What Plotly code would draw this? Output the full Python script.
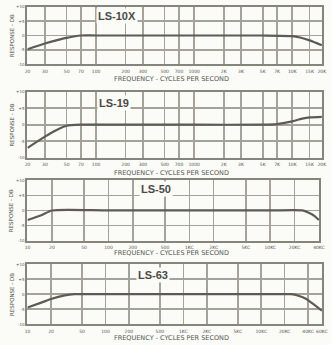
import math
import plotly.graph_objects as go

# ---------------- data ----------------
models = ["LS-10X", "LS-19", "LS-50", "LS-63"]

freq_ls10x = [20, 30, 40, 50, 70, 100, 1000, 5000, 10000, 12000, 15000, 20000]
db_ls10x = [-4.8, -2.8, -1.6, -0.8, 0, 0, 0, 0, -0.2, -0.7, -1.7, -3.4]

freq_ls19 = [20, 30, 40, 50, 70, 100, 1000, 5000, 7000, 10000, 12000, 15000, 20000]
db_ls19 = [-7.0, -3.6, -1.5, -0.3, 0, 0, 0, 0, 0.2, 1.0, 1.7, 2.2, 2.4]

freq_ls50 = [10, 15, 20, 100, 1000, 10000, 25000, 30000, 35000, 40000]
db_ls50 = [-3.2, -1.5, 0, 0, 0, 0, 0, -0.8, -1.8, -3.2]

freq_ls63 = [10, 15, 20, 30, 40, 100, 1000, 10000, 24000, 30000, 38000, 45000, 60000]
db_ls63 = [-4.4, -2.8, -1.6, -0.4, 0, 0, 0, 0, 0, -0.5, -1.6, -3.0, -5.5]

ticks_wide = [20, 30, 50, 70, 100, 200, 300, 500, 700, 1000, 2000, 3000, 5000, 7000, 10000, 15000, 20000]
labels_wide = ["20", "30", "50", "70", "100", "200", "300", "500", "700", "1000",
               "2K", "3K", "5K", "7K", "10K", "15K", "20K"]
ticks_ext = [10, 20, 50, 100, 200, 500, 1000, 2000, 5000, 10000, 20000, 40000, 60000]
labels_ext = ["10", "20", "50", "100", "200", "500", "1KC", "2KC", "5KC", "10KC", "20KC", "40KC", "60KC"]

y_ticks = [-10, -5, 0, 5, 10]
y_labels = ["-10", "-5", "0", "+5", "+10"]

x_title = "FREQUENCY - CYCLES PER SECOND"
y_title = "RESPONSE - DB"

# ---------------- layout helpers ----------------
W, H = 331, 345
panels = [
    # (freq, db, xrange, ticks, labels, left, right, top, bottom, title_x, title_y, xtitle_gap)
    (freq_ls10x, db_ls10x, (20, 20000), ticks_wide, labels_wide, 25, 328, 4, 62, 117, 13, 15),
    (freq_ls19, db_ls19, (20, 20000), ticks_wide, labels_wide, 25, 328, 90, 157, 114, 101, 15),
    (freq_ls50, db_ls50, (10, 40000), ticks_ext[:-1], labels_ext[:-1], 25, 325, 180, 241, 157, 189, 13),
    (freq_ls63, db_ls63, (10, 60000), ticks_ext, labels_ext, 25, 328, 265, 326, 154, 276, 14),
]

grid_c = "#a3a39a"
frame_c = "#85857c"
curve_c = "#5c5c54"
text_c = "#55554f"

fig = go.Figure()
annotations = []
for i, (fx, fy, xr, tv, tt, l, r, t, b, tx, ty, gap) in enumerate(panels, start=1):
    xa = "x" if i == 1 else f"x{i}"
    ya = "y" if i == 1 else f"y{i}"
    fig.add_trace(go.Scatter(x=fx, y=fy, mode="lines",
                             line=dict(color=curve_c, width=2.2, shape="spline", smoothing=0.6),
                             xaxis=xa, yaxis=ya, showlegend=False, hoverinfo="skip"))
    xkey = "xaxis" if i == 1 else f"xaxis{i}"
    ykey = "yaxis" if i == 1 else f"yaxis{i}"
    fig.update_layout(**{
        xkey: dict(domain=[l / W, r / W], anchor=ya, type="log",
                   range=[math.log10(xr[0]) - 0.003, math.log10(xr[1]) + 0.003],
                   tickmode="array", tickvals=tv, ticktext=tt,
                   showgrid=True, gridcolor=grid_c, gridwidth=1.6,
                   showline=True, linecolor=frame_c, linewidth=2, mirror=True,
                   ticks="", ticklabelstandoff=1,
                   tickfont=dict(size=4.5, color=text_c, family="DejaVu Sans"),
                   tickangle=0, zeroline=False, fixedrange=True),
        ykey: dict(domain=[1 - b / H, 1 - t / H], anchor=xa, range=[-10, 10],
                   tickmode="array", tickvals=y_ticks, ticktext=y_labels,
                   showgrid=True, gridcolor=grid_c, gridwidth=1.6,
                   showline=True, linecolor=frame_c, linewidth=2, mirror=True,
                   ticks="", tickfont=dict(size=4, color=text_c, family="DejaVu Sans"),
                   zeroline=False, fixedrange=True),
    })
    annotations.append(dict(text=f"<b>{models[i-1]}</b>", x=tx / W, y=1 - ty / H, xref="paper", yref="paper",
                            xanchor="center", yanchor="middle",
                            showarrow=False, font=dict(size=11, color="#4a4a45", family="Liberation Sans"),
                            bgcolor="#fbfbf8", borderpad=1))
    annotations.append(dict(text=x_title, x=173 / W, y=1 - (b + gap) / H, xref="paper", yref="paper",
                            xanchor="center", yanchor="middle",
                            showarrow=False, font=dict(size=6.5, color=text_c, family="DejaVu Sans")))
    annotations.append(dict(text=y_title, x=9 / W, y=1 - (t + b) / 2 / H, xref="paper", yref="paper",
                            xanchor="center", yanchor="middle",
                            showarrow=False, textangle=-90, font=dict(size=5.5, color=text_c, family="DejaVu Sans")))

fig.update_layout(width=W, height=H, margin=dict(l=0, r=0, t=0, b=0),
                  paper_bgcolor="#fbfbf8", plot_bgcolor="#fbfbf8",
                  annotations=annotations)

fig.write_html("out.html", config={"displayModeBar": False, "staticPlot": True},
               post_script="document.body.style.margin='0';")
